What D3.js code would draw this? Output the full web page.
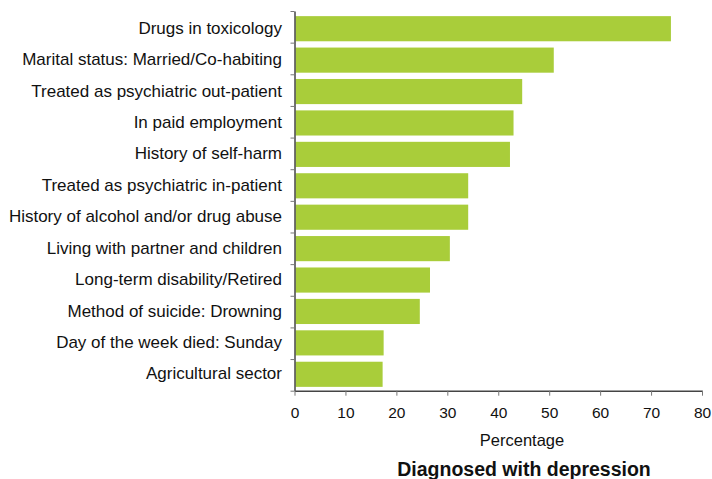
<!DOCTYPE html>
<html><head><meta charset="utf-8">
<script src="https://cdn.jsdelivr.net/npm/d3@7"></script>
<style>body{margin:0;background:#fff}svg{display:block}text{font-family:"Liberation Sans",Arial,sans-serif;fill:#111}</style>
</head><body>
<svg id="c" width="712" height="479"></svg>
<script>
const categories = [
  "Drugs in toxicology",
  "Marital status: Married/Co-habiting",
  "Treated as psychiatric out-patient",
  "In paid employment",
  "History of self-harm",
  "Treated as psychiatric in-patient",
  "History of alcohol and/or drug abuse",
  "Living with partner and children",
  "Long-term disability/Retired",
  "Method of suicide: Drowning",
  "Day of the week died: Sunday",
  "Agricultural sector"
];
const values = [73.9, 50.9, 44.7, 43.0, 42.3, 34.1, 34.1, 30.5, 26.6, 24.6, 17.5, 17.3];
const xTicks = [0, 10, 20, 30, 40, 50, 60, 70, 80];
const xLabel = "Percentage";
const title = "Diagnosed with depression";

const svg = d3.select("#c");
const x = d3.scaleLinear().domain([0, 80]).range([294.5, 702]);
const yBar = d3.scaleBand().domain(categories).range([13, 390]).paddingInner(0.2).paddingOuter(0.1);
const yEdge = d3.scaleLinear().domain([0, categories.length]).range([11, 390.7]);

svg.append("g").selectAll("rect").data(categories).join("rect")
  .attr("x", x(0) + 1)
  .attr("y", d => yBar(d))
  .attr("width", (d, i) => x(values[i]) - x(0) - 1)
  .attr("height", yBar.bandwidth())
  .attr("fill", "#a9cd3a");

// y axis with boundary ticks
const gy = svg.append("g").attr("transform", `translate(${x(0)},0)`)
  .call(d3.axisLeft(yEdge).tickValues(d3.range(categories.length + 1)).tickFormat("").tickSize(4).tickSizeOuter(0));
gy.select(".domain").attr("stroke", "#444").attr("stroke-width", 1.5);
gy.selectAll(".tick line").attr("stroke", "#777");

// category labels
svg.append("g").selectAll("text").data(categories).join("text")
  .attr("x", 282)
  .attr("y", d => yBar(d) + yBar.bandwidth() / 2)
  .attr("dy", "0.3em")
  .attr("text-anchor", "end")
  .attr("font-size", 17)
  .text(d => d);

// x axis
const gx = svg.append("g").attr("transform", `translate(0,${yEdge(categories.length)})`)
  .call(d3.axisBottom(x).tickValues(xTicks).tickSize(5).tickSizeOuter(0).tickPadding(11));
gx.select(".domain").attr("stroke", "#444").attr("stroke-width", 1.5);
gx.selectAll(".tick line").attr("stroke", "#777");
gx.selectAll(".tick text").attr("font-size", 15.5).attr("font-family", '"Liberation Sans",Arial,sans-serif').attr("fill", "#111");

svg.append("text").attr("x", 522).attr("y", 446)
  .attr("text-anchor", "middle").attr("font-size", 16.5).text(xLabel);
svg.append("text").attr("x", 524).attr("y", 476)
  .attr("text-anchor", "middle").attr("font-size", 19.5).attr("font-weight", "bold").text(title);
</script>
</body></html>
